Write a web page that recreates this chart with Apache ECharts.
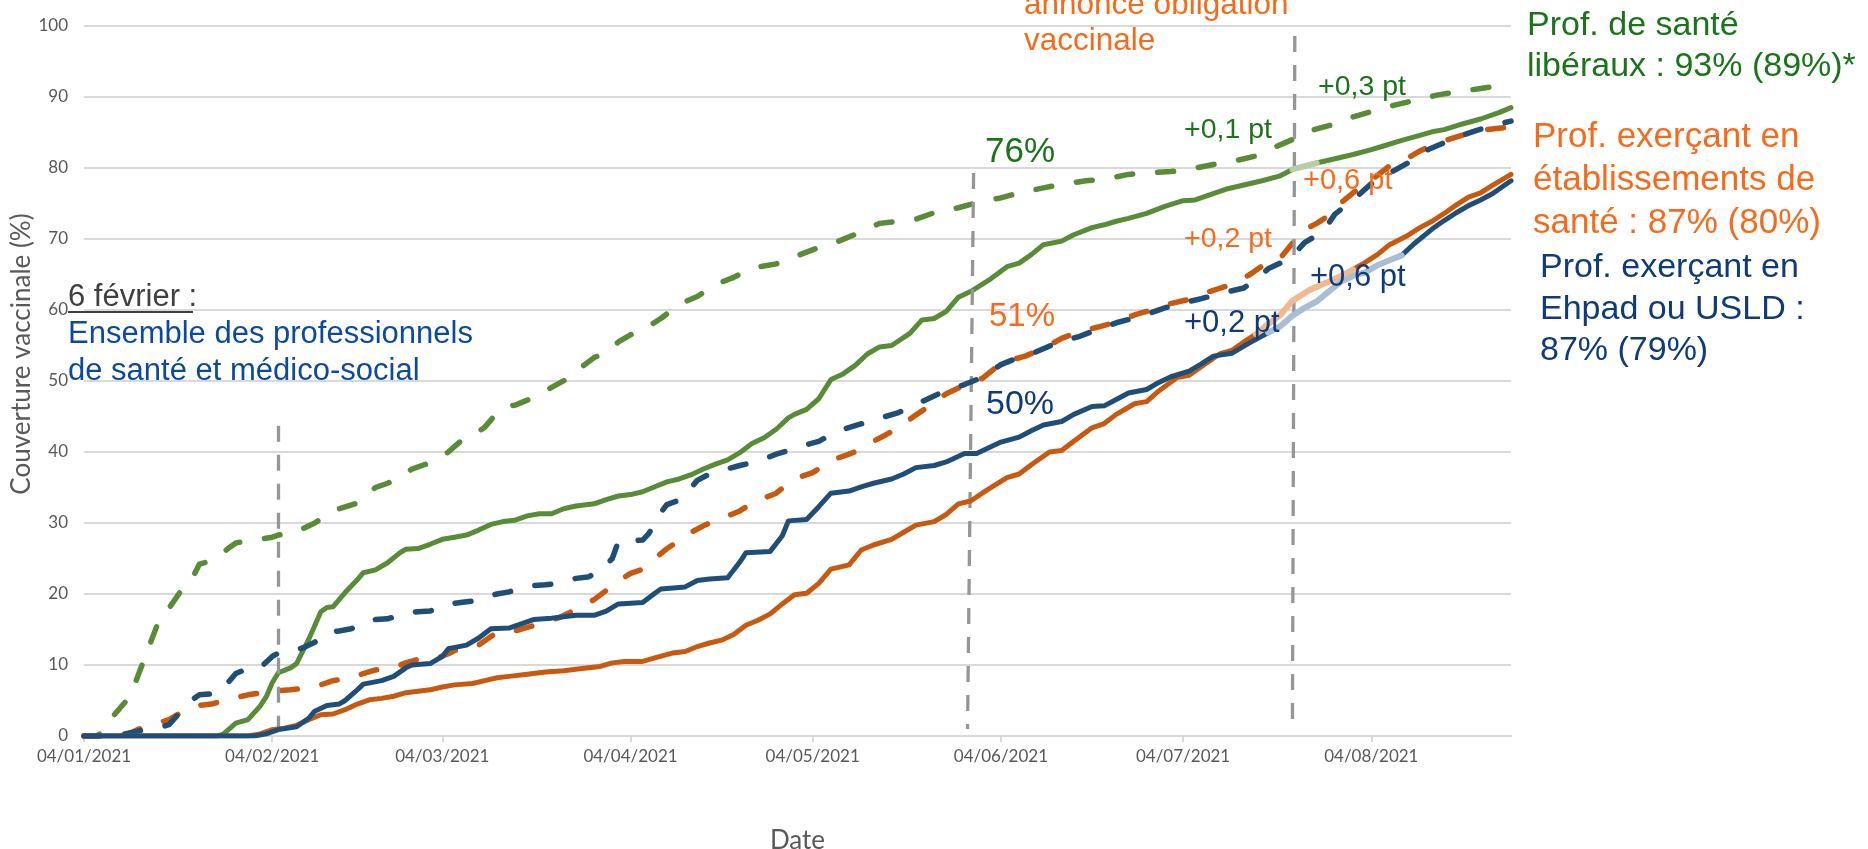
<!DOCTYPE html>
<html>
<head>
<meta charset="utf-8">
<title>Couverture vaccinale des professionnels</title>
<script src="https://cdn.jsdelivr.net/npm/echarts@6/dist/echarts.min.js"></script>
<style>
  html, body { margin: 0; padding: 0; background: #fff; }
  #chart { width: 1868px; height: 849px; }
</style>
</head>
<body>
<div id="chart"></div>
<script>
// jours comptés depuis le 04/01/2021, valeurs en %
var tickDays = [0, 31, 59, 90, 120, 151, 181, 212];
var tickLabels = ['04/01/2021', '04/02/2021', '04/03/2021', '04/04/2021', '04/05/2021', '04/06/2021', '04/07/2021', '04/08/2021'];

// Prof. de santé libéraux - au moins une dose (tirets)
var liberauxDose1 = [[0,0],[2,0],[3,0.5],[5,3],[7,5],[8,6.5],[10,11],[12,15.5],[14,18],[16,20.5],[18,22.5],[19,24.2],[21,24.7],[22,25.2],[24,26.6],[25,27.2],[28,27.6],[29,27.7],[31,28],[32,28.3],[35,28.7],[36,29.2],[38,30],[41,31.7],[42,32],[45,32.8],[48,35],[50,35.6],[52,36.4],[54,37.6],[56,38.2],[57,38.5],[59,39.5],[60,40],[62,41.5],[64,42.3],[66,43.5],[68,45.5],[70,46.5],[71,46.6],[73,47.3],[75,48.1],[77,49.1],[80,50.5],[82,52],[84,53.3],[86,54],[88,55.5],[90,56.5],[92,57.2],[95,58.8],[98,60.8],[101,61.9],[104,63.6],[107,64.6],[110,65.9],[114,66.5],[117,67.5],[121,68.8],[124,69.6],[128,71],[131,72.2],[134,72.5],[137,72.8],[140,73.7],[144,74.4],[147,75.1],[151,75.8],[154,76.5],[158,77.2],[161,77.7],[165,78.2],[168,78.4],[172,79.1],[175,79.3],[179,79.5],[182,79.8],[186,80.5],[189,80.9],[193,81.7],[196,82.9],[199,84],[201,85],[203,85.5],[206,86.2],[209,87.2],[213,88.2],[216,88.9],[220,89.7],[223,90.3],[226,90.7],[230,91.2],[233,91.6],[235,91.9]];
// Prof. de santé libéraux - schéma complet
var liberauxComplet = [[0,0],[22,0],[23,0.3],[25,1.8],[27,2.3],[29,4.2],[30,5.5],[31,7.5],[32,8.9],[34,9.6],[35,10.2],[37,13.6],[39,17.5],[40,18.1],[41,18.2],[43,20.2],[45,22],[46,23],[48,23.4],[50,24.4],[52,25.8],[53,26.3],[55,26.4],[57,27],[59,27.7],[61,28],[63,28.3],[65,29],[67,29.8],[69,30.2],[71,30.4],[73,31],[75,31.3],[77,31.3],[79,32],[81,32.4],[84,32.7],[86,33.3],[88,33.8],[90,34],[92,34.4],[94,35.1],[96,35.8],[98,36.2],[100,36.8],[102,37.6],[104,38.3],[106,38.9],[108,39.9],[110,41.2],[112,42],[114,43.2],[116,44.8],[117,45.3],[119,46],[121,47.5],[123,50.2],[125,51],[127,52.2],[129,53.8],[131,54.8],[133,55],[136,56.7],[138,58.6],[140,58.8],[142,59.8],[144,61.8],[146,62.6],[149,64.2],[152,66.1],[154,66.6],[156,67.8],[158,69.2],[161,69.7],[163,70.6],[166,71.6],[168,72],[170,72.5],[172,72.9],[175,73.6],[178,74.6],[181,75.4],[183,75.5],[185,76.1],[188,77],[191,77.6],[194,78.2],[197,78.9],[199,79.8],[203,80.7],[206,81.3],[209,81.9],[212,82.6],[214,83.1],[217,83.9],[220,84.6],[222,85.1],[224,85.4],[227,86.2],[230,86.9],[233,87.8],[235,88.5]];
// Prof. exerçant en établissements de santé - au moins une dose
var etabDose1 = [[0,0],[5,0],[7,0.2],[10,1.3],[12,1.8],[14,2.3],[17,3.8],[19,4.3],[21,4.5],[23,5],[25,5.4],[27,5.8],[30,6.2],[32,6.4],[34,6.5],[37,6.8],[39,7.2],[41,7.8],[44,8.2],[46,8.8],[48,9.3],[51,9.6],[53,10.3],[55,10.8],[58,10.9],[60,11.6],[62,12.4],[65,12.8],[67,14],[68,14.6],[71,14.8],[73,15.3],[75,15.8],[78,16.6],[80,17.4],[82,18.3],[84,19.2],[86,20.5],[88,21.8],[90,22.9],[92,23.5],[94,25],[96,26.4],[98,27.5],[100,28.7],[102,29.6],[104,30.4],[106,31],[108,31.7],[110,32.8],[112,33.5],[114,34.2],[116,35.6],[118,36.5],[120,37.1],[122,38.2],[124,39.1],[126,39.7],[128,40.4],[130,41.5],[132,42.4],[134,43.4],[137,45.2],[140,47],[142,48.2],[145,49.4],[148,50.4],[150,51.8],[152,52.8],[155,53.5],[158,54.6],[161,56],[164,57],[167,57.6],[170,58.3],[173,59.3],[175,59.8],[178,60.7],[182,61.5],[185,62.5],[189,63.6],[192,65],[194,66.2],[197,67.3],[199,69.4],[201,71.3],[203,72.2],[205,73.3],[207,75.1],[209,76.5],[212,78.3],[215,80.3],[218,81.4],[220,82.4],[222,83.2],[225,84.1],[228,84.9],[231,85.4],[235,85.8]];
// Prof. exerçant en établissements de santé - schéma complet
var etabComplet = [[0,0],[27,0],[29,0.3],[31,0.9],[33,1.1],[35,1.5],[37,2.3],[39,3],[41,3.1],[43,3.7],[45,4.5],[47,5.1],[49,5.3],[51,5.6],[53,6.1],[55,6.3],[57,6.5],[59,6.9],[61,7.2],[64,7.4],[66,7.8],[68,8.2],[70,8.4],[73,8.7],[76,9],[79,9.2],[82,9.5],[85,9.8],[87,10.3],[89,10.5],[92,10.5],[94,11],[97,11.7],[99,11.9],[101,12.6],[103,13.1],[105,13.5],[107,14.3],[109,15.6],[111,16.3],[113,17.2],[115,18.6],[117,19.9],[119,20.1],[121,21.5],[123,23.5],[126,24.1],[128,26.2],[130,26.9],[133,27.7],[135,28.7],[137,29.7],[140,30.2],[142,31.2],[144,32.7],[146,33.1],[149,34.8],[152,36.4],[154,36.9],[156,38.2],[159,40],[161,40.2],[163,41.5],[166,43.4],[168,44],[170,45.3],[173,46.8],[175,47.1],[177,48.6],[180,50.5],[182,50.8],[184,52],[187,53.8],[189,54.3],[191,55.5],[193,56.6],[195,58],[197,59.3],[199,61.3],[202,62.9],[205,64],[207,64.8],[209,65.7],[211,66.7],[213,67.8],[215,69.2],[218,70.5],[220,71.6],[222,72.5],[224,73.6],[226,74.8],[228,75.9],[230,76.5],[232,77.6],[235,79.1]];
// Prof. exerçant en Ehpad ou USLD - au moins une dose
var ehpadDose1 = [[0,0],[5,0],[8,0.5],[10,0.9],[12,1.1],[14,1.6],[16,3.5],[18,5.2],[19,5.8],[22,6],[24,7.8],[25,8.8],[27,9.5],[29,9.6],[31,11.2],[32,11.7],[34,11.8],[36,12.4],[38,13.2],[40,14.6],[42,14.8],[44,15.1],[46,16],[48,16.4],[50,16.5],[53,17.3],[55,17.5],[57,17.6],[60,18.6],[62,18.8],[64,19],[66,19.6],[68,20],[70,20.3],[72,20.8],[74,21.2],[76,21.3],[78,21.5],[81,22.2],[83,22.4],[85,23.2],[87,25],[88,27.4],[92,27.6],[93,28.5],[95,31.5],[96,32.6],[98,33.2],[100,35],[101,36],[103,36.9],[105,37.4],[108,38.1],[111,38.7],[114,39.7],[116,40.2],[118,40.8],[121,41.5],[124,42.9],[127,43.7],[130,44.5],[134,45.5],[138,47.1],[141,48.3],[145,49.5],[147,50.2],[149,51.2],[151,52.3],[153,53],[156,53.8],[160,55.3],[164,56.3],[167,57.3],[170,58.2],[174,59.1],[178,60.3],[181,61],[184,61.6],[188,62.5],[191,63.1],[193,64.3],[195,65.8],[197,66.6],[199,67.6],[201,69.5],[204,71],[206,73.5],[209,75.5],[212,77.8],[215,79.3],[218,80.7],[220,82.1],[223,83.2],[226,84.3],[229,85.2],[232,86],[235,86.6]];
// Prof. exerçant en Ehpad ou USLD - schéma complet
var ehpadComplet = [[0,0],[28,0],[30,0.3],[32,0.9],[35,1.3],[37,2.5],[38,3.5],[40,4.3],[42,4.5],[43,5],[45,6.5],[46,7.3],[49,7.8],[51,8.4],[53,9.6],[54,10],[57,10.2],[59,11.2],[60,12.3],[63,12.8],[65,13.8],[67,15.1],[70,15.2],[72,15.8],[74,16.4],[77,16.6],[79,16.8],[81,17],[84,17],[86,17.6],[88,18.6],[92,18.8],[94,20.1],[95,20.7],[99,21],[101,21.9],[103,22.1],[106,22.3],[108,24.5],[109,25.8],[113,26],[115,28.2],[116,30.3],[119,30.5],[121,32.3],[123,34.2],[126,34.5],[128,35.1],[130,35.6],[133,36.2],[135,36.9],[137,37.8],[140,38.1],[142,38.6],[145,39.8],[147,39.8],[149,40.6],[151,41.4],[154,42.1],[156,43],[158,43.8],[161,44.3],[163,45.3],[166,46.4],[168,46.5],[170,47.4],[172,48.3],[175,48.8],[177,49.8],[179,50.6],[182,51.4],[184,52.4],[186,53.5],[189,53.9],[192,55.4],[195,56.8],[197,57.7],[199,59.2],[201,60.3],[203,61.2],[205,62.6],[207,64],[209,64.8],[211,65.3],[213,66.3],[215,67],[217,67.7],[219,69.3],[222,71.4],[224,72.6],[226,73.7],[228,74.7],[230,75.5],[232,76.4],[235,78.2]];

// périodes surlignées après l'annonce (jours)
var surligneLiberaux = [199, 203];
var surligneEtab = [193, 209];
var surligneEhpad = [193, 217];
var surligneEtabDose1 = [210, 214];

var GREEN = '#588c36', ORANGE = '#c9590f', BLUE = '#1f4e79';
var TXT_GREEN = '#1a751a', TXT_ORANGE = '#f86a1a', TXT_BLUE = '#0e3b7c';

var chart = echarts.init(document.getElementById('chart'));

function courbe(name, data, color, dashed, z) {
	return {
		name: name,
		type: 'line',
		data: data,
		showSymbol: false,
		symbol: 'none',
		z: z,
		lineStyle: {
			color: color,
			width: dashed ? 5.5 : 5,
			type: dashed ? [16, 25] : 'solid',
			cap: 'round',
			join: 'round'
		},
		itemStyle: { color: color }
	};
}

function surligne(data, range, color) {
	return {
		type: 'line',
		data: data.filter(function(p) { return p[0] >= range[0] && p[0] <= range[1]; }),
		showSymbol: false,
		symbol: 'none',
		z: 8,
		lineStyle: { color: color, width: 6, cap: 'round', join: 'round' }
	};
}

function texte(str, x, yc, size, color, lh) {
	lh = lh || Math.round(size * 1.2);
	return {
		type: 'text',
		x: x,
		y: yc - lh / 2,
		silent: true,
		z: 100,
		style: {
			text: str,
			font: size + 'px "Liberation Sans", Arial, sans-serif',
			fill: color,
			lineHeight: lh,
			textVerticalAlign: 'top'
		}
	};
}

var grisTirets = { color: '#969696', width: 3.3, type: [16, 13] };

var series = [
	courbe('Libéraux - 1 dose', liberauxDose1, GREEN, true, 2),
	courbe('Libéraux - complet', liberauxComplet, GREEN, false, 3),
	courbe('Etablissements - 1 dose', etabDose1, ORANGE, true, 4),
	courbe('Ehpad - 1 dose', ehpadDose1, BLUE, true, 5),
	courbe('Etablissements - complet', etabComplet, ORANGE, false, 6),
	courbe('Ehpad - complet', ehpadComplet, BLUE, false, 7),
	surligne(liberauxComplet, surligneLiberaux, '#b4cfa3'),
	surligne(etabComplet, surligneEtab, '#f1b98f'),
	surligne(ehpadComplet, surligneEhpad, '#a9bdd3'),
	surligne(etabDose1, surligneEtabDose1, '#f1b98f')
];

series[5].markLine = {
	silent: true,
	symbol: 'none',
	label: { show: false },
	lineStyle: grisTirets,
	data: [
		[{ coord: [32, 43.7] }, { coord: [32, 1.0] }],
		[{ coord: [146.5, 79.3] }, { coord: [145.5, 1.0] }],
		[{ coord: [199.4, 98.6] }, { coord: [199, 0.8] }]
	]
};

option = {
	animation: false,
	backgroundColor: '#ffffff',
	grid: {
		left: 84,
		right: 357,
		top: 26,
		bottom: 113,
		containLabel: false,
		outerBoundsMode: 'none'
	},
	xAxis: {
		type: 'value',
		min: 0,
		max: 235,
		name: 'Date',
		nameLocation: 'middle',
		nameGap: 92,
		nameTextStyle: { fontFamily: 'Lato', fontSize: 26, color: '#595959' },
		axisLine: { lineStyle: { color: '#d9d9d9', width: 2 } },
		axisTick: { show: true, length: 6, lineStyle: { color: '#d9d9d9', width: 2 }, customValues: tickDays },
		axisLabel: {
			customValues: tickDays,
			margin: 12,
			fontFamily: 'Lato',
			fontSize: 17,
			color: '#595959',
			formatter: function(v) {
				var i = tickDays.indexOf(Math.round(v));
				return i >= 0 ? tickLabels[i] : '';
			}
		},
		splitLine: { show: false }
	},
	yAxis: {
		type: 'value',
		min: 0,
		max: 100,
		interval: 10,
		axisLine: { show: false },
		axisTick: { show: false },
		axisLabel: { margin: 16, fontFamily: 'Lato', fontSize: 17, color: '#595959' },
		splitLine: { lineStyle: { color: '#d9d9d9', width: 2 } }
	},
	graphic: [
		{
			type: 'text', x: 22, y: 354, rotation: Math.PI / 2, silent: true,
			style: { text: 'Couverture vaccinale (%)', font: '26px Lato', fill: '#595959', textAlign: 'center', textVerticalAlign: 'middle' }
		},
		texte('annonce obligation\nvaccinale', 1024, 5.4, 31.5, TXT_ORANGE, 36),
		texte('Prof. de santé\nlibéraux : 93% (89%)*', 1527, 26, 34, TXT_GREEN, 41),
		texte('Prof. exerçant en\nétablissements de\nsanté : 87% (80%)', 1533, 137, 35, TXT_ORANGE, 43),
		texte('Prof. exerçant en\nEhpad ou USLD :\n87% (79%)', 1540, 268, 34, TXT_BLUE, 41.5),
		texte('6 février :', 68, 297, 31, '#404040', 37),
		{ type: 'line', silent: true, z: 100, shape: { x1: 68, y1: 312, x2: 193, y2: 312 }, style: { stroke: '#404040', lineWidth: 2 } },
		texte('Ensemble des professionnels\nde santé et médico-social', 68, 334, 31, '#0b4a9e', 37),
		texte('76%', 985, 152, 35, TXT_GREEN),
		texte('51%', 989, 317, 33, TXT_ORANGE),
		texte('50%', 986, 405, 34, TXT_BLUE),
		texte('+0,1 pt', 1184, 130, 28.5, TXT_GREEN),
		texte('+0,3 pt', 1318, 87, 28.5, TXT_GREEN),
		texte('+0,2 pt', 1184, 239, 28.5, TXT_ORANGE),
		texte('+0,6 pt', 1303, 181, 29, TXT_ORANGE),
		texte('+0,2 pt', 1184, 323, 31, TXT_BLUE),
		texte('+0,6 pt', 1310, 277, 31, TXT_BLUE)
	],
	series: series
};

chart.setOption(option);
</script>
</body>
</html>
